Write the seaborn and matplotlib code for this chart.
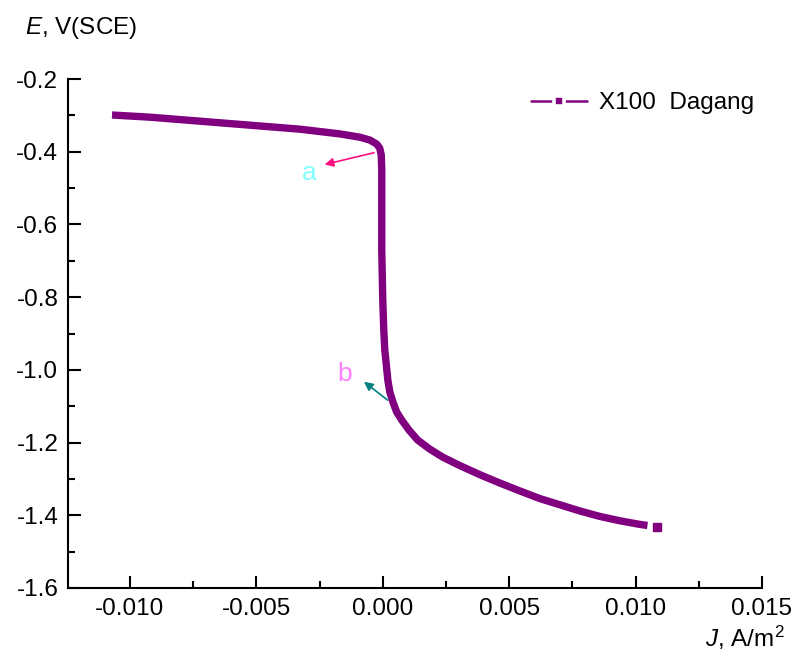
import matplotlib
matplotlib.use("Agg")
import matplotlib.pyplot as plt
from matplotlib.lines import Line2D
from matplotlib.ticker import MultipleLocator
import seaborn as sns
import pandas as pd

# Polarization curve: current density J (A/m^2) vs potential E (V vs SCE)
J = [-0.01071, -0.00921, -0.00723, -0.00526, -0.00328, -0.00170, -0.00091,
     -0.00051, -0.00024, -0.00012, -0.00006, -0.00004, -0.00004, 0.0,
     0.00004, 0.00008, 0.00016, 0.00020, 0.00028, 0.00040, 0.00055, 0.00075,
     0.00103, 0.00138, 0.00186, 0.00237, 0.00304, 0.00383, 0.00462, 0.00542,
     0.00621, 0.00700, 0.00779, 0.00858, 0.00937, 0.01016, 0.01047, 0.01083]
E = [-0.299, -0.305, -0.316, -0.327, -0.338, -0.351, -0.360,
     -0.368, -0.379, -0.390, -0.409, -0.450, -0.670, -0.808,
     -0.890, -0.945, -1.000, -1.028, -1.061, -1.088, -1.116, -1.138,
     -1.165, -1.193, -1.218, -1.240, -1.263, -1.288, -1.311, -1.333,
     -1.354, -1.371, -1.388, -1.403, -1.415, -1.425, -1.428, -1.432]
series_label = "X100  Dagang"

xticks = [-0.010, -0.005, 0.000, 0.005, 0.010, 0.015]
xtick_labels = ["-0.010", "-0.005", "0.000", "0.005", "0.010", "0.015"]
yticks = [-1.6, -1.4, -1.2, -1.0, -0.8, -0.6, -0.4, -0.2]
ytick_labels = ["-1.6", "-1.4", "-1.2", "-1.0", "-0.8", "-0.6", "-0.4", "-0.2"]

sns.set_style("ticks")
plt.rcParams["font.family"] = ["Liberation Sans", "DejaVu Sans"]
plt.rcParams["mathtext.fontset"] = "custom"
plt.rcParams["mathtext.rm"] = "Liberation Sans"
plt.rcParams["mathtext.it"] = "Liberation Sans:italic"
plt.rcParams["text.color"] = "black"

purple = "#800080"
fs = 17.5
fig = plt.figure(figsize=(7.95, 6.55), dpi=100)
ax = fig.add_axes([68 / 795, 1 - 588 / 655, (762 - 68) / 795, (588 - 79) / 655])

df = pd.DataFrame({"J": J[:-1], "E": E[:-1]})
sns.lineplot(data=df, x="J", y="E", sort=False, estimator=None, ax=ax,
             color=purple, lw=5.3, solid_capstyle="butt",
             solid_joinstyle="round", legend=False)
ax.plot(J[-1:], E[-1:], ls="none", marker="s", ms=5.5, color=purple)

ax.set_xlim(-0.01245, 0.015)
ax.set_ylim(-1.6, -0.2)
ax.set_xticks(xticks)
ax.set_xticklabels(xtick_labels)
ax.set_yticks(yticks)
ax.set_yticklabels(ytick_labels)
ax.xaxis.set_minor_locator(MultipleLocator(0.0025))
ax.yaxis.set_minor_locator(MultipleLocator(0.1))
ax.tick_params(which="major", direction="in", length=9, width=1.5,
               labelsize=fs, pad=7, colors="black")
ax.tick_params(which="minor", direction="in", length=5, width=1.5, colors="black")
for side in ("top", "right"):
    ax.spines[side].set_visible(False)
for side in ("left", "bottom"):
    ax.spines[side].set_linewidth(1.5)
    ax.spines[side].set_color("black")
ax.set_xlabel("")
ax.set_ylabel("")

fig.text(25 / 795, 1 - 28 / 655, r"$\it{E}$, V(SCE)", fontsize=fs, va="center", ha="left")
fig.text(785 / 795, 1 - 638 / 655, r"$\it{J}$, A/m$^2$", fontsize=fs, va="center", ha="right")

# annotation arrows
ax.annotate("", xy=(-0.00241, -0.437), xytext=(-0.00024, -0.401),
            arrowprops=dict(arrowstyle="-|>", color="#ff1080", lw=1.2, mutation_scale=13))
ax.text(-0.00289, -0.458, "a", color="#80ffff", fontsize=19, ha="center", va="center")
ax.annotate("", xy=(-0.00083, -1.028), xytext=(0.00028, -1.088),
            arrowprops=dict(arrowstyle="-|>", color="#008080", lw=1.2, mutation_scale=13))
ax.text(-0.0015, -1.011, "b", color="#ff80ff", fontsize=19, ha="center", va="center")

handle = Line2D([], [], color=purple, lw=1.8, marker="s", ms=7,
                markeredgecolor="white", markeredgewidth=2.6,
                markerfacecolor=purple)
ax.legend([handle], [series_label], loc="upper right", frameon=False,
          fontsize=fs, handlelength=2.3, handletextpad=0.5, borderaxespad=0.0,
          bbox_to_anchor=(1.003, 0.993))

fig.savefig("out.png", dpi=100)
